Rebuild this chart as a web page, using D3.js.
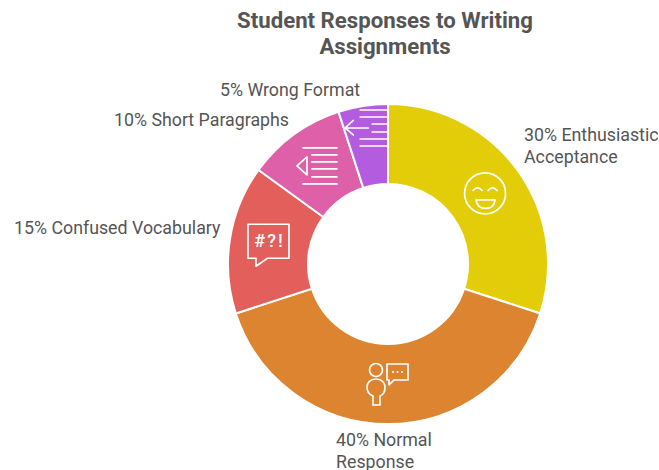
<!DOCTYPE html>
<html>
<head>
<meta charset="utf-8">
<script src="https://cdn.jsdelivr.net/npm/d3@7"></script>
<style>
  html, body { margin: 0; padding: 0; background: #fff; }
  svg { display: block; }
  text { font-family: Roboto, sans-serif; fill: #555; }
</style>
</head>
<body>
<svg id="chart" width="659" height="470"></svg>
<script>
const titleLines = ["Student Responses to Writing", "Assignments"];
const categories = ["Enthusiastic Acceptance", "Normal Response", "Confused Vocabulary", "Short Paragraphs", "Wrong Format"];
const shares = [30, 40, 15, 10, 5];
const labelLines = [
  ["30% Enthusiastic", "Acceptance"],
  ["40% Normal", "Response"],
  ["15% Confused Vocabulary"],
  ["10% Short Paragraphs"],
  ["5% Wrong Format"]
];
const sliceColors = ["#e3cd08", "#dd8431", "#e35f5b", "#dd60a9", "#b45cdf"];

const svg = d3.select("#chart");
const cx = 388, cy = 264, outerR = 160, innerR = 80;

// Where each label block starts: x and first baseline
const labelAnchors = [[524, 141], [336, 446], [14, 233.5], [114, 125.5], [220, 95.5]];

const colorScale = d3.scaleOrdinal().domain(categories).range(sliceColors);
const pie = d3.pie().sort(null).value(d => d.share);
const arc = d3.arc().innerRadius(innerR).outerRadius(outerR);
const arcs = pie(categories.map((name, i) => ({ name, share: shares[i] })));

svg.append("g").selectAll("text").data(titleLines).join("text")
  .attr("x", 385)
  .attr("y", (d, i) => 28 + i * 26)
  .attr("text-anchor", "middle")
  .attr("font-size", 22.2)
  .attr("font-weight", 700)
  .text(d => d);

const ring = svg.append("g").attr("transform", `translate(${cx},${cy})`);
ring.selectAll("path").data(arcs).join("path")
  .attr("d", arc)
  .attr("fill", d => colorScale(d.data.name))
  .attr("stroke", "#fff")
  .attr("stroke-width", 2);

// Line icons, each drawn around the centre of its slice
const iconDrawers = [
  g => {
    g.append("circle").attr("r", 20.5);
    g.append("path").attr("d", "M-12,-3 Q-7.5,-8 -3,-3 M3,-3 Q7.5,-8 12,-3");
    g.append("path").attr("d", "M-9,6.5 H10 Q9,15 0.5,15 Q-8,15 -9,6.5 Z");
  },
  g => {
    g.append("circle").attr("cx", -12).attr("cy", -14).attr("r", 6.5);
    g.append("path").attr("d", "M-12,-5 C-18,-5 -21,-1 -21,3 C-21,8 -18,11 -15,12 V21 H-8 V12 C-5,11 -3,8 -3,3 C-3,-1 -6,-5 -12,-5 Z");
    g.append("path").attr("d", "M2,-20 H20 V-4 H6 L1,1 V-4 H-1 V-20 Z");
    [5, 9.5, 14].forEach(x => g.append("circle").attr("cx", x).attr("cy", -12).attr("r", 1.1).attr("fill", "#fff").attr("stroke", "none"));
  },
  g => {
    g.append("path").attr("d", "M-21.5,-21 H19.5 V13 H-2 L-13.5,21 V13 H-21.5 Z");
    g.append("text").attr("x", 0).attr("y", -3).attr("text-anchor", "middle")
      .attr("font-size", 18).attr("font-weight", 500).attr("letter-spacing", 2)
      .attr("dominant-baseline", "middle").style("fill", "#fff").attr("stroke", "none").text("#?!");
  },
  g => {
    g.append("path").attr("d", "M-14.5,-19 H19.5 M-5.5,-12 H19.5 M-5.5,-5 H19.5 M-5.5,2 H19.5 M-5.5,10 H19.5 M-14.5,17 H19.5");
    g.append("path").attr("d", "M-10.5,-10 L-20.5,-1 L-10.5,8 Z");
  },
  g => {
    g.append("path").attr("d", "M-9,-35.5 H18 M-9,-28.5 H18 M3,-21.5 H18 M3,-13.5 H18 M-9,-6.5 H18 M-9,0.5 H18");
    g.append("path").attr("d", "M-1,-17.5 H-24 M-16,-25 L-24,-17.5 L-16,-10.5");
  }
];

const icons = ring.append("g")
  .attr("fill", "none")
  .attr("stroke", "#fff")
  .attr("stroke-width", 1.7)
  .attr("stroke-linejoin", "round")
  .attr("stroke-linecap", "round");
arcs.forEach((d, i) => {
  const [x, y] = arc.centroid(d);
  iconDrawers[i](icons.append("g").attr("transform", `translate(${x},${y})`));
});

const labels = svg.append("g").attr("font-size", 17.8);
labelLines.forEach((lines, i) => {
  const [x, y] = labelAnchors[i];
  labels.append("g").selectAll("text").data(lines).join("text")
    .attr("x", x)
    .attr("y", (d, j) => y + j * 21.7)
    .text(d => d);
});
</script>
</body>
</html>
